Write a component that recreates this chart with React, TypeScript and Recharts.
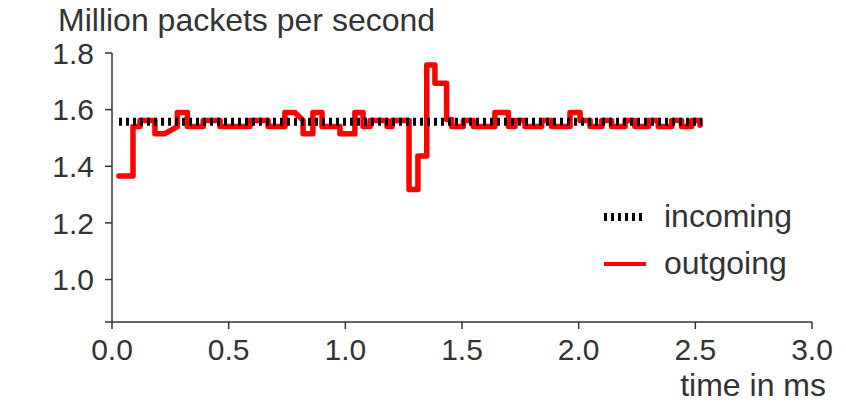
import React from "react";
import { LineChart, Line, XAxis, YAxis } from "recharts";

// corner points of the outgoing trace (time in ms, Mpps)
const outTime = [
  0.03, 0.09, 0.09, 0.12, 0.12, 0.184, 0.184, 0.227, 0.28, 0.28, 0.323, 0.323,
  0.391, 0.391, 0.463, 0.463, 0.591, 0.591, 0.669, 0.669, 0.741, 0.741, 0.784,
  0.819, 0.819, 0.861, 0.861, 0.9, 0.9, 0.977, 0.977, 1.041, 1.041, 1.076,
  1.076, 1.106, 1.106, 1.179, 1.179, 1.2, 1.2, 1.273, 1.273, 1.311, 1.311,
  1.349, 1.349, 1.384, 1.384, 1.434, 1.434, 1.456, 1.456, 1.506, 1.506, 1.549,
  1.549, 1.641, 1.641, 1.699, 1.699, 1.727, 1.727, 1.77, 1.77, 1.841, 1.841,
  1.884, 1.884, 1.963, 1.963, 2.006, 2.006, 2.049, 2.049, 2.099, 2.099, 2.141,
  2.141, 2.199, 2.199, 2.241, 2.241, 2.299, 2.299, 2.341, 2.341, 2.399, 2.399,
  2.441, 2.441, 2.484, 2.484, 2.52, 2.52,
];
const outRate = [
  1.366, 1.366, 1.54, 1.54, 1.562, 1.562, 1.515, 1.515, 1.54, 1.59, 1.59, 1.54,
  1.54, 1.562, 1.562, 1.54, 1.54, 1.562, 1.562, 1.54, 1.54, 1.59, 1.59,
  1.562, 1.515, 1.515, 1.59, 1.59, 1.54, 1.54, 1.515, 1.515, 1.59, 1.59,
  1.54, 1.54, 1.562, 1.562, 1.54, 1.54, 1.562, 1.562, 1.318, 1.318, 1.436,
  1.436, 1.758, 1.758, 1.693, 1.693, 1.565, 1.565, 1.54, 1.54, 1.562, 1.562,
  1.54, 1.54, 1.59, 1.59, 1.54, 1.54, 1.562, 1.562, 1.54, 1.54, 1.562,
  1.562, 1.54, 1.54, 1.59, 1.59, 1.562, 1.562, 1.54, 1.54, 1.562, 1.562,
  1.54, 1.54, 1.562, 1.562, 1.54, 1.54, 1.562, 1.562, 1.54, 1.54, 1.562,
  1.562, 1.54, 1.54, 1.562, 1.562, 1.545,
];

const inTime = [0.03, 2.53];
const inRate = [1.557, 1.557];

const xTicks = [0, 0.5, 1, 1.5, 2, 2.5, 3];
const yTicks = [0.85, 1.0, 1.2, 1.4, 1.6, 1.8];

const outgoing = outTime.map((t, i) => ({ t, v: outRate[i] }));
const incoming = inTime.map((t, i) => ({ t, v: inRate[i] }));

const font = "'Liberation Sans', Arial, sans-serif";
const textColor = "#333";
const axisColor = "#333";
const tickStyle = { fontSize: 30, fill: textColor, fontFamily: font };

const overlayText = {
  position: "absolute" as const,
  fontSize: 32,
  lineHeight: "36px",
  color: textColor,
  fontFamily: font,
  whiteSpace: "nowrap" as const,
};

function LegendBox() {
  const row = { display: "flex", alignItems: "center", height: 47 };
  const label = { fontSize: 32, color: textColor, fontFamily: font, marginLeft: 18 };
  return (
    <div style={{ position: "absolute", left: 602, top: 193 }}>
      <div style={row}>
        <svg width={44} height={10}>
          <line x1={2} y1={5} x2={44} y2={5} stroke="#000" strokeWidth={8} strokeDasharray="3 4" />
        </svg>
        <span style={label}>incoming</span>
      </div>
      <div style={row}>
        <svg width={44} height={10}>
          <line x1={2} y1={5} x2={44} y2={5} stroke="#ff0000" strokeWidth={4} />
        </svg>
        <span style={label}>outgoing</span>
      </div>
    </div>
  );
}

export default function App() {
  return (
    <div style={{ position: "absolute", left: 0, top: 0, width: 846, height: 402, background: "#fff" }}>
      <LineChart width={846} height={402} margin={{ top: 53, right: 34, bottom: 30, left: 0 }}>
        <XAxis
          xAxisId="bottom"
          dataKey="t"
          type="number"
          domain={[0, 3]}
          ticks={xTicks}
          tickFormatter={(v: number) => v.toFixed(1)}
          height={50}
          tickSize={7}
          tickMargin={10}
          tick={tickStyle}
          stroke={axisColor}
          strokeWidth={1.5}
          allowDuplicatedCategory
        />
        <XAxis
          xAxisId="top"
          orientation="top"
          type="number"
          domain={[0, 3]}
          height={0}
          tick={false}
          tickLine={false}
          stroke={axisColor}
          strokeWidth={1.5}
        />
        <YAxis
          yAxisId="left"
          type="number"
          domain={[0.85, 1.8]}
          ticks={yTicks}
          tickFormatter={(v: number) => (v < 0.9 ? "" : v.toFixed(1))}
          width={112}
          tickSize={7}
          tickMargin={11}
          tick={tickStyle}
          stroke={axisColor}
          strokeWidth={1.5}
        />
        <YAxis
          yAxisId="right"
          orientation="right"
          type="number"
          domain={[0.85, 1.8]}
          width={0}
          tick={false}
          tickLine={false}
          stroke={axisColor}
          strokeWidth={1.5}
        />
        <Line
          xAxisId="bottom"
          yAxisId="left"
          data={outgoing}
          dataKey="v"
          type="linear"
          stroke="#ff0000"
          strokeWidth={5.5}
          strokeLinejoin="round"
          strokeLinecap="round"
          dot={false}
          isAnimationActive={false}
          name="outgoing"
        />
        <Line
          xAxisId="bottom"
          yAxisId="left"
          data={incoming}
          dataKey="v"
          type="linear"
          stroke="#000"
          strokeWidth={8}
          strokeDasharray="3 4"
          dot={false}
          isAnimationActive={false}
          name="incoming"
        />
      </LineChart>
      <div style={{ ...overlayText, left: 58, top: 2 }}>Million packets per second</div>
      <div style={{ ...overlayText, right: 846 - 826, top: 367 }}>time in ms</div>
      <LegendBox />
    </div>
  );
}
